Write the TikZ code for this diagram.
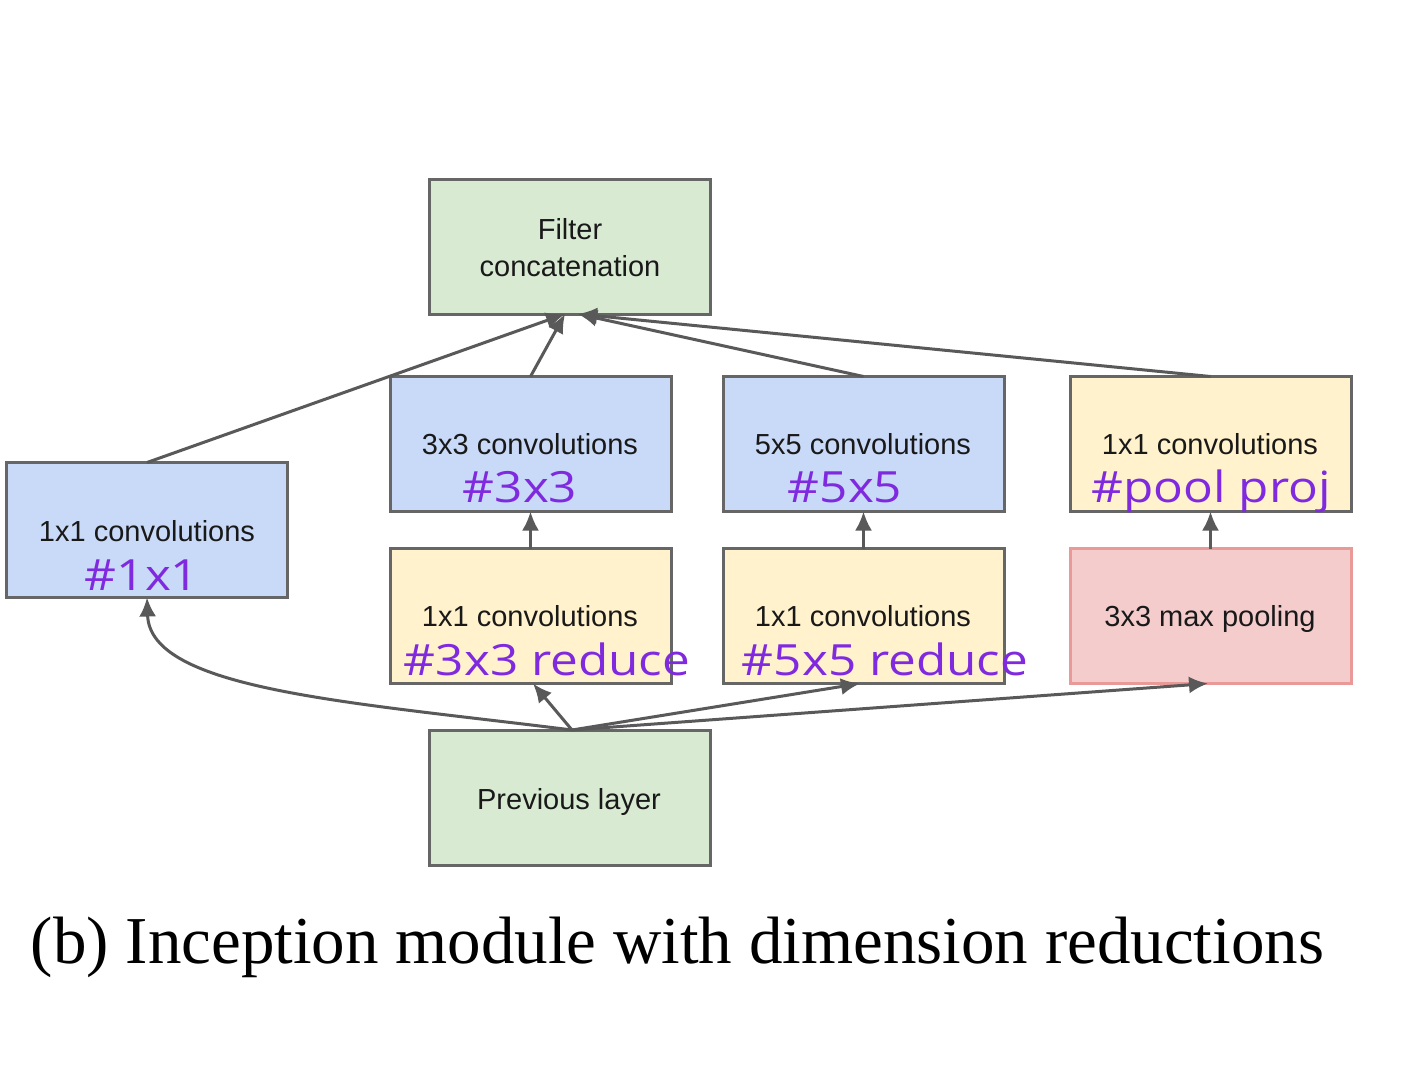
\documentclass[tikz,border=0pt]{standalone}
\usepackage{fontspec}
\usetikzlibrary{arrows.meta}
\newfontfamily\boxfont{Liberation Sans}
\newfontfamily\purplefont[FakeStretch=1.15]{Open Sans}
\newfontfamily\capfont{Liberation Serif}
\definecolor{bordergray}{HTML}{666666}
\definecolor{arrowgray}{HTML}{595959}
\definecolor{greenfill}{HTML}{D9EAD3}
\definecolor{bluefill}{HTML}{C9DAF8}
\definecolor{yellowfill}{HTML}{FFF2CC}
\definecolor{pinkfill}{HTML}{F4CCCC}
\definecolor{pinkborder}{HTML}{EA9999}
\definecolor{purpletext}{RGB}{128,42,224}
\tikzset{
  box/.style={draw=bordergray, line width=1.5pt, minimum width=140.5pt, minimum height=67.5pt, inner sep=0pt, outer sep=0pt},
  greenbox/.style={box, fill=greenfill},
  bluebox/.style={box, fill=bluefill},
  yellowbox/.style={box, fill=yellowfill},
  pinkbox/.style={box, fill=pinkfill, draw=pinkborder},
  boxtext/.style={anchor=base, inner sep=0pt, font=\boxfont\fontsize{14.5}{18.5}\selectfont, text=black!90},
  purple/.style={anchor=base, inner sep=0pt, font=\purplefont\fontsize{21.5}{24}\selectfont, text=purpletext},
  conn/.style={draw=arrowgray, line width=1.5pt, -{Latex[length=9.5pt,width=8.5pt]}}
}
\begin{document}
\begin{tikzpicture}[x=0.5pt, y=-0.5pt]
\path[use as bounding box, fill=white] (0,0) rectangle (1403,1071);

% boxes
\node[greenbox]  (concat) at (570,246.5) {};
\node[bluebox]   (left1)  at (147,530) {};
\node[bluebox]   (c3)     at (530.5,444) {};
\node[bluebox]   (c5)     at (863.5,444) {};
\node[yellowbox] (pp)     at (1210.5,444) {};
\node[yellowbox] (r3)     at (530.5,616) {};
\node[yellowbox] (r5)     at (863.5,616) {};
\node[pinkbox]   (mp)     at (1210.5,616) {};
\node[greenbox]  (prev)   at (570,797.5) {};

% connectors
\draw[conn] (left1.north) -- ([xshift=-2.5pt]concat.south);
\draw[conn] (c3.north) -- ([xshift=-2.5pt]concat.south);
\draw[conn] (c5.north) -- ([xshift=4pt]concat.south);
\draw[conn] (pp.north) -- ([xshift=4pt]concat.south);
\draw[conn] (r3.north) -- (c3.south);
\draw[conn] (r5.north) -- (c5.south);
\draw[conn] (mp.north) -- (pp.south);
\draw[conn] ([xshift=1pt]prev.north) -- ([xshift=1.25pt]r3.south);
\draw[conn] ([xshift=1pt]prev.north) -- ([xshift=-1.75pt]r5.south);
\draw[conn] ([xshift=1pt]prev.north) -- ([xshift=-1.25pt]mp.south);
\draw[conn] ([xshift=1pt]prev.north) .. controls (350,702) and (150,690) .. (left1.south);

% texts
\node[boxtext] (tconcat1) at (570,239) {Filter};
\node[boxtext] (tconcat2) at (570,276) {concatenation};
\node[boxtext] (tleft1) at (147,541) {1x1 convolutions};
\node[purple]  (pleft1) at (142,590) {\#1x1};
\node[boxtext] (tc3) at (530,454.5) {3x3 convolutions};
\node[purple]  (pc3) at (520,502) {\#3x3};
\node[boxtext] (tc5) at (863,454.5) {5x5 convolutions};
\node[purple]  (pc5) at (845,502) {\#5x5};
\node[boxtext] (tpp) at (1210,454.5) {1x1 convolutions};
\node[purple]  (ppp) at (1211,502) {\#pool proj};
\node[boxtext] (tr3) at (530,626) {1x1 convolutions};
\node[purple]  (pr3) at (547,675) {\#3x3 reduce};
\node[boxtext] (tr5) at (863,626) {1x1 convolutions};
\node[purple]  (pr5) at (885,675) {\#5x5 reduce};
\node[boxtext] (tmp) at (1210,626) {3x3 max pooling};
\node[boxtext] (tprev) at (569,809) {Previous layer};

\node[anchor=base, inner sep=0pt, font=\capfont\fontsize{33.5}{40}\selectfont] (caption) at (677.5,963) {(b) Inception module with dimension reductions};
\end{tikzpicture}
\end{document}
